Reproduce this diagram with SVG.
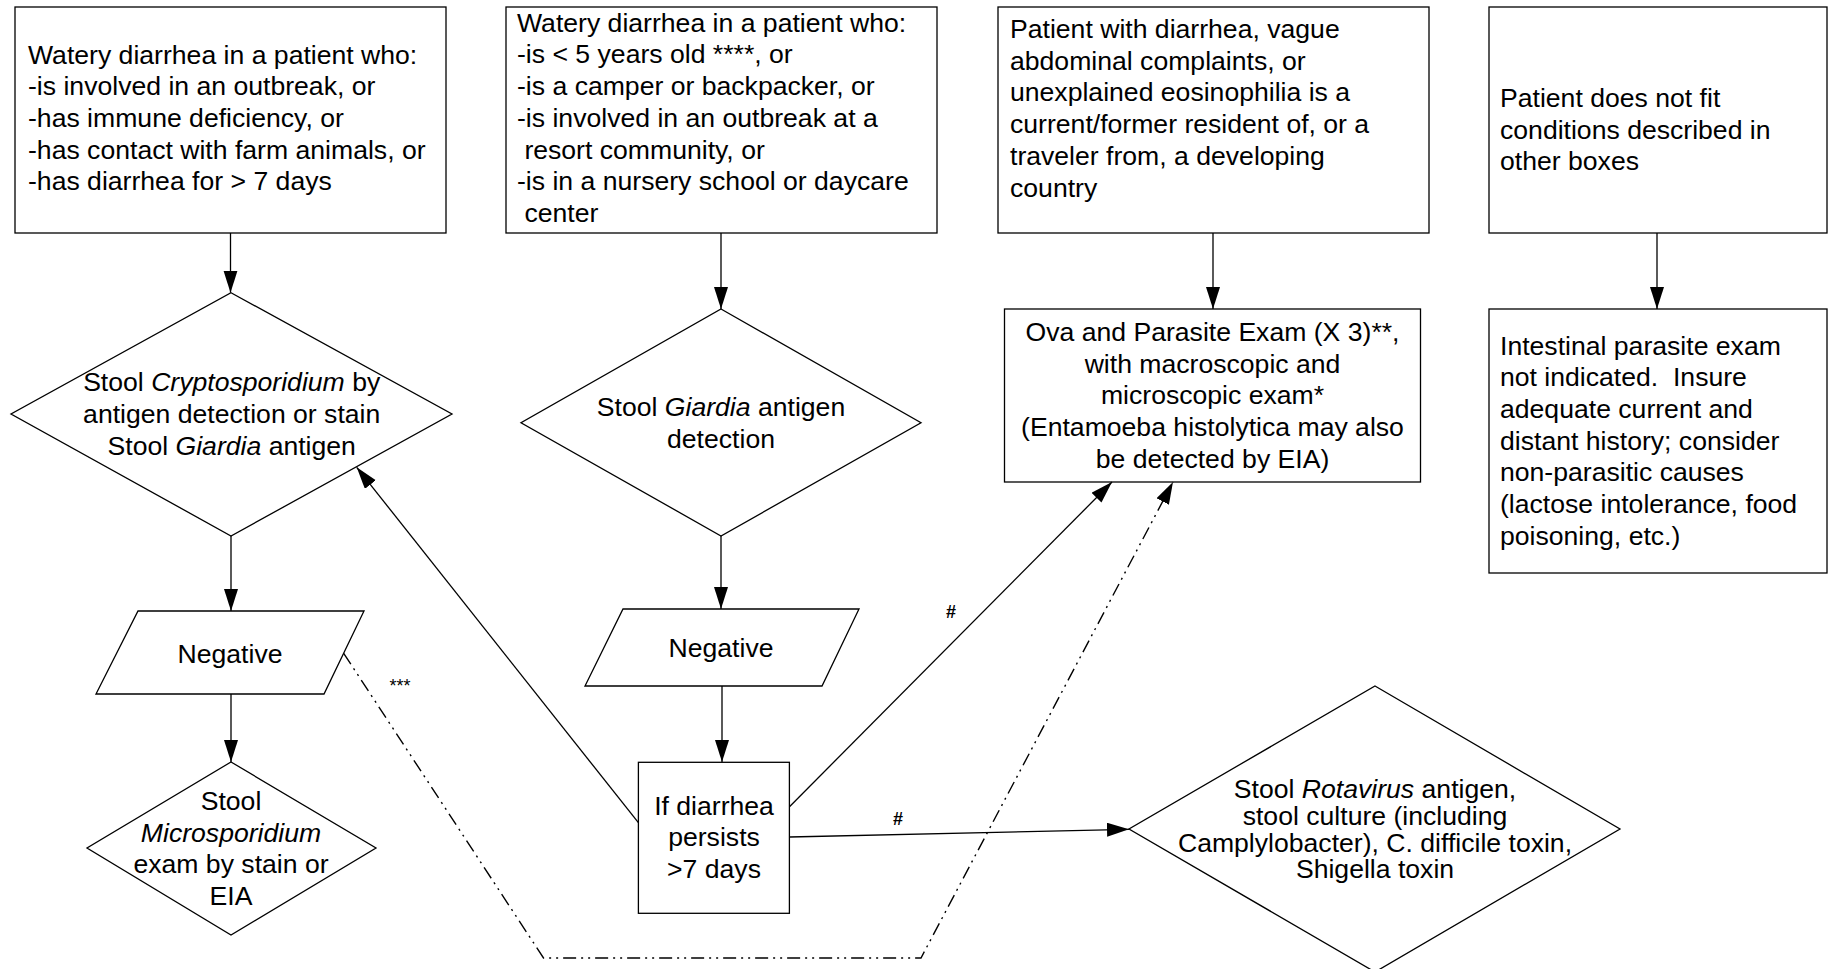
<svg xmlns="http://www.w3.org/2000/svg" width="1833" height="969" viewBox="0 0 1833 969">
<style>
.s{fill:#fff;stroke:#000;stroke-width:1.3}
.t{font-family:"Liberation Sans",Arial,sans-serif;font-size:26.6px;fill:#000}
.c{text-anchor:middle}
.i{font-style:italic}
.ln{fill:none;stroke:#000;stroke-width:1.3}
.dd{fill:none;stroke:#000;stroke-width:1.4;stroke-dasharray:13 5 2 5 2 5}
.lb{font-family:"Liberation Sans",Arial,sans-serif;fill:#000}
</style>
<defs>
<marker id="ah" markerUnits="userSpaceOnUse" markerWidth="24" markerHeight="16" refX="22" refY="7" orient="auto"><path d="M0,0 L22,7 L0,14 z" fill="#000"/></marker>
</defs>
<rect width="1833" height="969" fill="#fff"/>
<g id="box1">
<rect class="s" x="15" y="7" width="431" height="226"/>
<text class="t"><tspan x="28" y="63.5">Watery diarrhea in a patient who:</tspan><tspan x="28" y="95.2">-is involved in an outbreak, or</tspan><tspan x="28" y="126.9">-has immune deficiency, or</tspan><tspan x="28" y="158.6">-has contact with farm animals, or</tspan><tspan x="28" y="190.3">-has diarrhea for &gt; 7 days</tspan></text>
</g>
<g id="box2">
<rect class="s" x="506" y="7" width="431" height="226"/>
<text class="t"><tspan x="517" y="31.7">Watery diarrhea in a patient who:</tspan><tspan x="517" y="63.4">-is &lt; 5 years old ****, or</tspan><tspan x="517" y="95.1">-is a camper or backpacker, or</tspan><tspan x="517" y="126.8">-is involved in an outbreak at a</tspan><tspan x="524.4" y="158.5">resort community, or</tspan><tspan x="517" y="190.2">-is in a nursery school or daycare</tspan><tspan x="524.4" y="221.9">center</tspan></text>
</g>
<g id="box3">
<rect class="s" x="998" y="7" width="431" height="226"/>
<text class="t"><tspan x="1010" y="38">Patient with diarrhea, vague</tspan><tspan x="1010" y="69.7">abdominal complaints, or</tspan><tspan x="1010" y="101.4">unexplained eosinophilia is a</tspan><tspan x="1010" y="133.1">current/former resident of, or a</tspan><tspan x="1010" y="164.8">traveler from, a developing</tspan><tspan x="1010" y="196.5">country</tspan></text>
</g>
<g id="box4">
<rect class="s" x="1489" y="7" width="338" height="226"/>
<text class="t"><tspan x="1500" y="107">Patient does not fit</tspan><tspan x="1500" y="138.7">conditions described in</tspan><tspan x="1500" y="170.4">other boxes</tspan></text>
</g>
<g id="crypto">
<polygon class="s" points="231,292.7 452,414 231,536 11,414"/>
<text class="t c"><tspan x="231.7" y="391.2">Stool <tspan class="i">Cryptosporidium</tspan> by</tspan><tspan x="231.7" y="422.8">antigen detection or stain</tspan><tspan x="231.7" y="454.5">Stool <tspan class="i">Giardia</tspan> antigen</tspan></text>
</g>
<g id="giardia">
<polygon class="s" points="721,309 921,422.7 721,536 521,422.7"/>
<text class="t c"><tspan x="721" y="416">Stool <tspan class="i">Giardia</tspan> antigen</tspan><tspan x="721" y="448">detection</tspan></text>
</g>
<g id="ova">
<rect class="s" x="1004.5" y="309" width="416" height="173"/>
<text class="t c"><tspan x="1212.5" y="341">Ova and Parasite Exam (X 3)**,</tspan><tspan x="1212.5" y="372.7">with macroscopic and</tspan><tspan x="1212.5" y="404.4">microscopic exam*</tspan><tspan x="1212.5" y="436.1">(Entamoeba histolytica may also</tspan><tspan x="1212.5" y="467.8">be detected by EIA)</tspan></text>
</g>
<g id="intestinal">
<rect class="s" x="1489" y="309" width="338" height="264"/>
<text class="t" xml:space="preserve"><tspan x="1500" y="354.5">Intestinal parasite exam</tspan><tspan x="1500" y="386.2">not indicated.  Insure</tspan><tspan x="1500" y="417.9">adequate current and</tspan><tspan x="1500" y="449.6">distant history; consider</tspan><tspan x="1500" y="481.3">non-parasitic causes</tspan><tspan x="1500" y="513">(lactose intolerance, food</tspan><tspan x="1500" y="544.7">poisoning, etc.)</tspan></text>
</g>
<g id="negative1">
<polygon class="s" points="138,611 364,611 324,694 96,694"/>
<text class="t c" x="230" y="662.5">Negative</text>
</g>
<g id="negative2">
<polygon class="s" points="623,609 859,609 822,686 585,686"/>
<text class="t c" x="721" y="656.5">Negative</text>
</g>
<g id="microsporidium">
<polygon class="s" points="231,762 376,848 231,935 87,848"/>
<text class="t c"><tspan x="231" y="810">Stool</tspan><tspan x="231" y="841.7" class="i">Microsporidium</tspan><tspan x="231" y="873.4">exam by stain or</tspan><tspan x="231" y="905.1">EIA</tspan></text>
</g>
<g id="persists">
<rect class="s" x="638.4" y="762.3" width="151" height="151"/>
<text class="t c"><tspan x="714" y="814.5">If diarrhea</tspan><tspan x="714" y="846">persists</tspan><tspan x="714" y="877.5">&gt;7 days</tspan></text>
</g>
<g id="rotavirus">
<polygon class="s" points="1375,686 1620,829 1375,972 1129,829"/>
<text class="t c"><tspan x="1375" y="798">Stool <tspan class="i">Rotavirus</tspan> antigen,</tspan><tspan x="1375" y="824.8">stool culture (including</tspan><tspan x="1375" y="851.6">Camplylobacter), C. difficile toxin,</tspan><tspan x="1375" y="878.4">Shigella toxin</tspan></text>
</g>
<g id="connectors">
<path class="ln" d="M230.5,233 V292.7" marker-end="url(#ah)"/>
<path class="ln" d="M721,233 V309" marker-end="url(#ah)"/>
<path class="ln" d="M1213,233 V309" marker-end="url(#ah)"/>
<path class="ln" d="M1657,233 V309" marker-end="url(#ah)"/>
<path class="ln" d="M231,536 V611" marker-end="url(#ah)"/>
<path class="ln" d="M231,694 V762" marker-end="url(#ah)"/>
<path class="ln" d="M721,536 V609" marker-end="url(#ah)"/>
<path class="ln" d="M722,686 V762" marker-end="url(#ah)"/>
<path class="ln" d="M638.4,822.7 L356.7,467.3" marker-end="url(#ah)"/>
<path class="ln" d="M789.5,806.7 L1112,482" marker-end="url(#ah)"/>
<path class="ln" d="M789.5,837 L1129,829.3" marker-end="url(#ah)"/>
<path class="dd" d="M343.7,653.3 L543.5,958 L921,958 L1173,482" marker-end="url(#ah)"/>
<text class="lb" x="951" y="617.5" font-size="18" font-weight="bold" text-anchor="middle">#</text>
<text class="lb" x="898" y="824.5" font-size="18" font-weight="bold" text-anchor="middle">#</text>
<text class="lb" x="400" y="692" font-size="18" text-anchor="middle">***</text>
</g>
</svg>
